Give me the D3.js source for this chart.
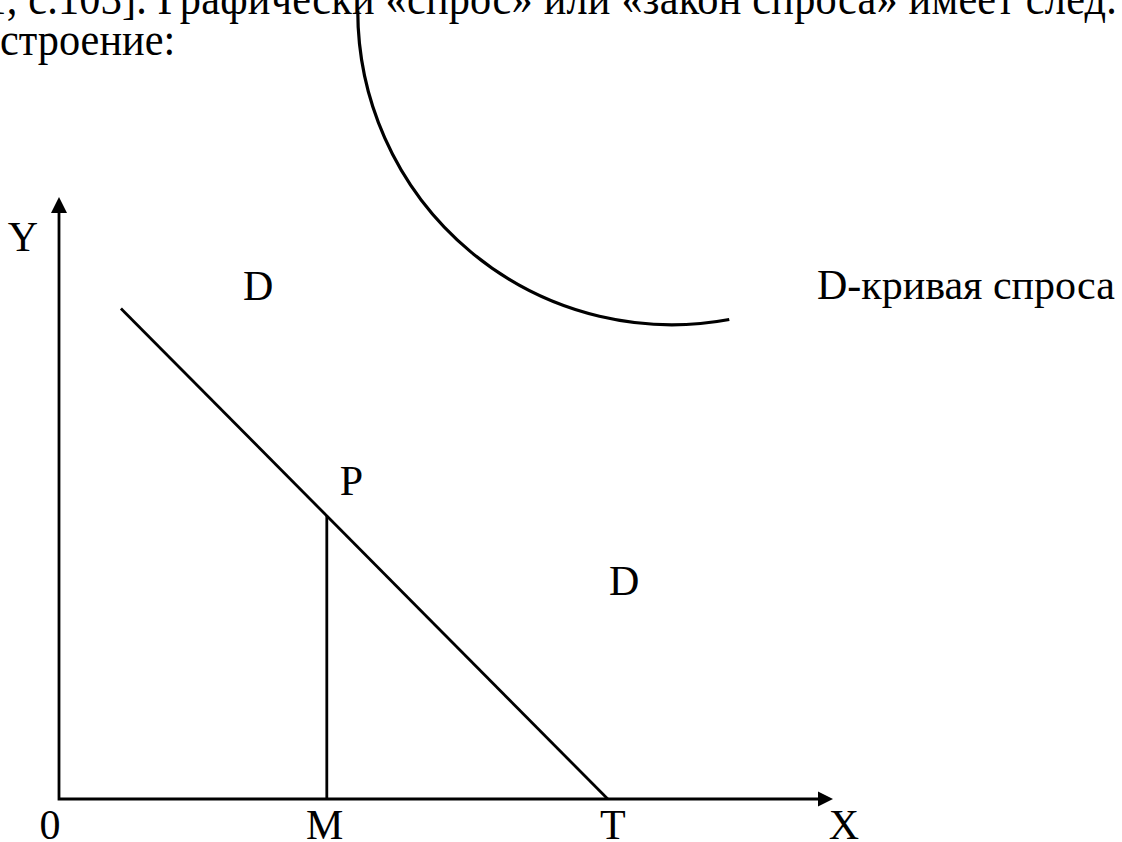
<!DOCTYPE html>
<html>
<head>
  <meta charset="utf-8">
  <title>Закон спроса</title>
  <script src="https://cdn.jsdelivr.net/npm/d3@7"></script>
<style>
body {
  margin: 0;
  background: #fff;
}
svg text {
  font-family: "Liberation Serif", "Times New Roman", serif;
  font-size: 42px;
  fill: #000;
}
svg .body-text {
  font-size: 46px;
}
.stroke {
  fill: none;
  stroke: #000;
  stroke-width: 2.8;
}
</style>
</head>
<body>

<svg width="1122" height="842"></svg>
<script>

// chart values (in chart units)
var axisMax = [10, 7.78];           // x, y
var demandX = [0.8, 7.09];          // start .. T
var demandY = [6.34, 0];
var pointM = [3.46];
var pointP = [3.46, 3.66];
var arcCenter = [7.92, 10.19];
var arcRadius = [4.06];
var arcAngles = [79.5, 180];        // degrees
var axisLabels = ["0", "M", "T", "X", "Y"];
var curveLabels = ["D", "P", "D", "D-кривая спроса"];
var textLines = ["1, с.103]. Графически «спрос» или «закон спроса» имеет след.", "строение:"];

var svg = d3.select("svg");

var x = d3.scaleLinear().domain([0, axisMax[0]]).range([59, 833]);
var y = d3.scaleLinear().domain([0, axisMax[1]]).range([799, 197]);

var line = d3.line()
    .x(function(d) { return x(d[0]); })
    .y(function(d) { return y(d[1]); });

// text above the chart (slightly narrow, like the scan)
var headText = svg.append("g").attr("transform", "scale(0.92,1)");
headText.append("text").attr("class", "body-text")
    .attr("x", -16).attr("y", 14)
    .attr("textLength", 1230).attr("lengthAdjust", "spacing")
    .text(textLines[0]);
headText.append("text").attr("class", "body-text")
    .attr("x", 0).attr("y", 55).text(textLines[1]);

// axes
svg.append("path").attr("class", "stroke")
    .attr("d", line([[0, axisMax[1] - 0.15], [0, 0], [axisMax[0] - 0.15, 0]]));

svg.append("path")
    .attr("d", "M" + x(0) + "," + y(axisMax[1]) + "l-8,16h16z");
svg.append("path")
    .attr("d", "M" + x(axisMax[0]) + "," + y(0) + "l-15,-7.5v15z");

// demand line
svg.append("path").attr("class", "stroke")
    .attr("d", line(demandX.map(function(v, i) { return [v, demandY[i]]; })));

// M - P
svg.append("path").attr("class", "stroke")
    .attr("d", line([[pointM[0], 0], pointP]));

// the arc at the top
var p = d3.path();
p.arc(x(arcCenter[0]), y(arcCenter[1]), x(arcRadius[0]) - x(0),
      arcAngles[0] * Math.PI / 180, arcAngles[1] * Math.PI / 180);
svg.append("path").attr("class", "stroke")
    .style("stroke-width", 3.2)
    .attr("d", p.toString());

// axis labels
svg.append("text").attr("text-anchor", "middle")
    .attr("x", x(0) - 9).attr("y", y(0) + 40).text(axisLabels[0]);
svg.append("text").attr("text-anchor", "middle")
    .attr("x", x(pointM[0]) - 2).attr("y", y(0) + 40).text(axisLabels[1]);
svg.append("text").attr("text-anchor", "middle")
    .attr("x", x(demandX[1]) + 5).attr("y", y(0) + 40).text(axisLabels[2]);
svg.append("text").attr("text-anchor", "middle")
    .attr("x", x(axisMax[0]) + 11).attr("y", y(0) + 40).text(axisLabels[3]);
svg.append("text").attr("text-anchor", "middle")
    .attr("x", x(0) - 36).attr("y", y(axisMax[1]) + 54).text(axisLabels[4]);

// curve labels
svg.append("text").attr("x", 243).attr("y", 300).text(curveLabels[0]);
svg.append("text").attr("x", x(pointP[0]) + 13).attr("y", y(pointP[1]) - 21).text(curveLabels[1]);
svg.append("text").attr("x", 609).attr("y", 595).text(curveLabels[2]);
svg.append("text").attr("x", 817).attr("y", 299).text(curveLabels[3]);

</script>
</body>
</html>
